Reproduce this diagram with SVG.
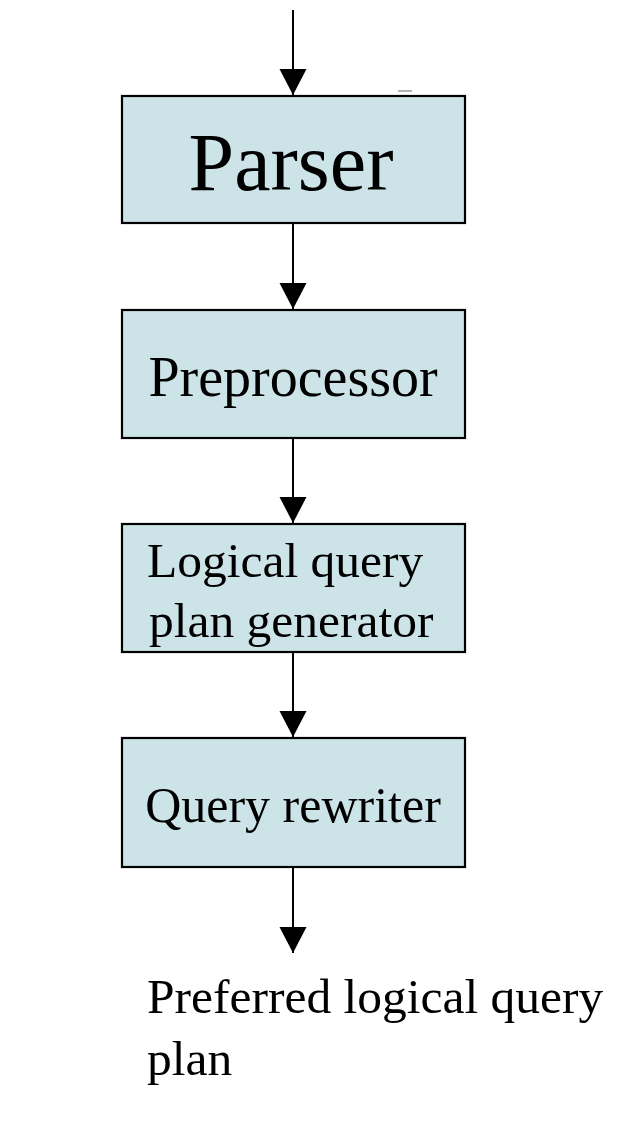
<svg xmlns="http://www.w3.org/2000/svg" width="638" height="1128" viewBox="0 0 638 1128">
<style>
.box{fill:#CCE4E8;stroke:#000;stroke-width:2.2}
.lbl{font-family:"Liberation Serif","Times New Roman",serif;fill:#000}
.conn{stroke:#000;stroke-width:2;fill:none}
</style>
<defs>
<marker id="ah" markerUnits="userSpaceOnUse" markerWidth="28" markerHeight="28" refX="26" refY="13.5" orient="auto" viewBox="0 0 28 28">
<path d="M0,0 L26,13.5 L0,27 z" fill="#000"/>
</marker>
</defs>
<rect width="638" height="1128" fill="#fff"/>
<line x1="398" y1="91" x2="412" y2="91" stroke="#999" stroke-width="1.5"/>
<g id="connectors">
<line class="conn" x1="293" y1="10" x2="293" y2="95" marker-end="url(#ah)"/>
<line class="conn" x1="293" y1="224" x2="293" y2="309" marker-end="url(#ah)"/>
<line class="conn" x1="293" y1="439" x2="293" y2="523" marker-end="url(#ah)"/>
<line class="conn" x1="293" y1="653" x2="293" y2="737" marker-end="url(#ah)"/>
<line class="conn" x1="293" y1="868" x2="293" y2="953" marker-end="url(#ah)"/>
</g>
<g id="parser">
<rect class="box" x="122" y="96" width="343" height="127"/>
<text class="lbl" x="291" y="190" font-size="82" text-anchor="middle">Parser</text>
</g>
<g id="preprocessor">
<rect class="box" x="122" y="310" width="343" height="128"/>
<text class="lbl" x="293" y="396" font-size="56" text-anchor="middle">Preprocessor</text>
</g>
<g id="logical">
<rect class="box" x="122" y="524" width="343" height="128"/>
<text class="lbl" x="147" y="577" font-size="49.5">Logical query</text>
<text class="lbl" x="149" y="637" font-size="49.5">plan generator</text>
</g>
<g id="rewriter">
<rect class="box" x="122" y="738" width="343" height="129"/>
<text class="lbl" x="293" y="822" font-size="50" text-anchor="middle">Query rewriter</text>
</g>
<g id="output">
<text class="lbl" x="147" y="1013" font-size="49.5">Preferred logical query</text>
<text class="lbl" x="147" y="1075" font-size="49.5">plan</text>
</g>
</svg>
